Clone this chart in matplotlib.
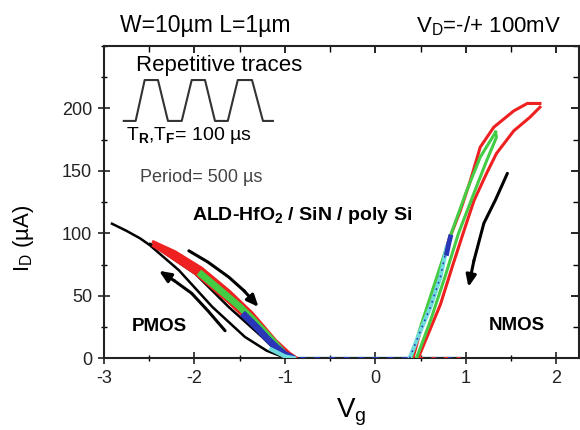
import matplotlib

matplotlib.use("Agg")
import matplotlib.pyplot as plt
from matplotlib.ticker import MultipleLocator

plt.rcParams["font.family"] = ["Liberation Sans", "DejaVu Sans"]
plt.rcParams["mathtext.fontset"] = "custom"
plt.rcParams["mathtext.rm"] = "Liberation Sans"
plt.rcParams["mathtext.it"] = "Liberation Sans:italic"
plt.rcParams["mathtext.bf"] = "Liberation Sans:bold"
plt.rcParams["axes.unicode_minus"] = False

RED = "#ee2020"
GREEN = "#44cc44"
BLUE = "#2a35b8"
CYAN = "#6fdcdc"

# ---- PMOS branch (negative Vg) ----
pmos_black_outer_vg = [-2.91, -2.75, -2.60, -2.49, -2.17, -1.80, -1.44, -1.20, -1.00]
pmos_black_outer_id = [107.7, 102, 96, 90.4, 70.4, 41, 17, 6, 0.5]
pmos_black_inner_vg = [-2.49, -2.45, -1.99, -1.62, -1.25, -1.10, -0.97]
pmos_black_inner_id = [91.5, 90.4, 67.7, 41, 17, 6.4, 0.5]

pmos_red_upper_vg = [-2.45, -2.21, -1.92, -1.62, -1.36, -1.10, -0.95, -0.88]
pmos_red_upper_id = [93, 85, 72, 54, 36, 14, 4, 0.5]
pmos_red_lower_vg = [-2.45, -2.36, -1.99, -1.62, -1.33, -1.10, -0.97]
pmos_red_lower_id = [90, 86, 68, 45, 25, 9, 0.5]

pmos_green_vg = [-1.92, -1.69, -1.51, -1.36, -1.20, -1.05]
pmos_green_id = [67, 53, 42, 31.5, 19, 7]
pmos_blue_vg = [-1.44, -1.30, -1.20, -1.10, -1.00, -0.93]
pmos_blue_id = [34, 24, 16, 9, 3, 0.5]
pmos_cyan_vg = [-1.15, -1.00, -0.90]
pmos_cyan_id = [7, 1.5, 0]

# ---- off region ----
off_vg = [-1.0, 0.95]
off_id = [0, 0]

# ---- NMOS branch (positive Vg) ----
nmos_red_up_vg = [0.42, 0.53, 0.68, 0.81, 0.94, 1.05, 1.16, 1.31, 1.53, 1.68, 1.82]
nmos_red_up_id = [1, 30, 62, 94, 118, 142, 169, 185, 198, 204, 204]
nmos_red_dn_vg = [1.82, 1.71, 1.53, 1.34, 1.23, 1.09, 0.98, 0.85, 0.72, 0.48]
nmos_red_dn_id = [201, 193, 182, 164, 148, 126, 102, 73, 43, 1]

nmos_green_up_vg = [0.40, 0.50, 0.68, 0.85, 1.01, 1.16, 1.33]
nmos_green_up_id = [1, 25, 65, 102, 134, 161, 181]
nmos_green_dn_vg = [1.33, 1.34, 1.23, 1.09, 0.92, 0.77, 0.61, 0.46]
nmos_green_dn_id = [181, 177, 158, 132, 100, 65, 30, 1]

nmos_cyan_vg = [0.38, 0.50, 0.61, 0.72, 0.79]
nmos_cyan_id = [0, 22, 41, 65, 89]
nmos_blue_vg = [0.79, 0.81, 0.83]
nmos_blue_id = [84, 91, 97]

# ---- sweep direction arrows ----
arrow_pmos_down_vg = [-2.06, -1.85, -1.62, -1.45, -1.29]
arrow_pmos_down_id = [86, 77, 65, 54, 41]
arrow_pmos_up_vg = [-1.66, -1.85, -2.03, -2.22, -2.39]
arrow_pmos_up_id = [22, 38, 52, 62, 70]
arrow_nmos_vg = [1.46, 1.33, 1.20, 1.09, 1.03]
arrow_nmos_id = [148, 127, 108, 78, 57]

# ---- gate pulse sketch (axes fraction) ----
pulse_x = [0.042, 0.067, 0.086, 0.114, 0.135, 0.164, 0.185, 0.213,
           0.234, 0.261, 0.282, 0.312, 0.335, 0.356]
pulse_y = [0.760, 0.760, 0.891, 0.891, 0.760, 0.760, 0.891, 0.891,
           0.760, 0.760, 0.891, 0.891, 0.760, 0.760]

x_ticks = [-3, -2, -1, 0, 1, 2]
y_ticks = [0, 50, 100, 150, 200]

fig = plt.figure(figsize=(5.8, 4.3), dpi=100)
ax = fig.add_axes([0.179, 0.167, 0.819, 0.726])

# off-state floor
ax.plot(off_vg, off_id, color=CYAN, lw=2.5, solid_capstyle="butt", zorder=2)
ax.plot(off_vg, off_id, color=BLUE, lw=1.5, ls=(0, (3, 4)), zorder=3)
ax.plot([0.48, 0.95], [0, 0], color=RED, lw=1.5, ls=(0, (2, 4)), zorder=3)

# PMOS
ax.plot(pmos_black_outer_vg, pmos_black_outer_id, color="k", lw=1.8, zorder=2)
ax.plot(pmos_black_inner_vg, pmos_black_inner_id, color="k", lw=1.8, zorder=2)
band_vg = pmos_red_upper_vg + pmos_red_lower_vg[::-1]
band_id = pmos_red_upper_id + pmos_red_lower_id[::-1]
ax.fill(band_vg, band_id, color=RED, lw=0, zorder=3)
ax.plot(pmos_red_upper_vg, pmos_red_upper_id, color=RED, lw=2.4, zorder=3)
ax.plot(pmos_red_lower_vg, pmos_red_lower_id, color=RED, lw=2.4, zorder=3)
ax.plot(pmos_green_vg, pmos_green_id, color=GREEN, lw=5, zorder=4)
ax.plot(pmos_blue_vg, pmos_blue_id, color=BLUE, lw=5, zorder=5)
ax.plot(pmos_cyan_vg, pmos_cyan_id, color=CYAN, lw=3, zorder=5)

# NMOS
ax.plot(nmos_red_up_vg, nmos_red_up_id, color=RED, lw=2.2, zorder=3)
ax.plot(nmos_red_dn_vg, nmos_red_dn_id, color=RED, lw=2.2, zorder=3)
ax.plot(nmos_green_up_vg, nmos_green_up_id, color=GREEN, lw=2.2, zorder=4)
ax.plot(nmos_green_dn_vg, nmos_green_dn_id, color=GREEN, lw=2.2, zorder=4)
ax.plot(nmos_cyan_vg, nmos_cyan_id, color=CYAN, lw=3, zorder=5)
ax.plot(nmos_cyan_vg, nmos_cyan_id, color=BLUE, lw=1.2, ls=(0, (1, 3)), zorder=6)
ax.plot(nmos_blue_vg, nmos_blue_id, color=BLUE, lw=3.5, zorder=6)

# arrows
for xs, ys in [(arrow_pmos_down_vg, arrow_pmos_down_id),
               (arrow_pmos_up_vg, arrow_pmos_up_id),
               (arrow_nmos_vg, arrow_nmos_id)]:
    ax.plot(xs[:-1], ys[:-1], color="k", lw=2.2, solid_capstyle="round", zorder=6)
    ax.annotate("", xy=(xs[-1], ys[-1]), xytext=(xs[-2], ys[-2]),
                arrowprops=dict(arrowstyle="-|>,head_width=0.3,head_length=0.7",
                                color="k", lw=2.2, shrinkA=0, shrinkB=0), zorder=6)

ax.plot(pulse_x, pulse_y, color="#333333", lw=1.5, transform=ax.transAxes)

ax.text(-1.73, 234, "Repetitive traces", fontsize=16, ha="center", va="center")
ax.text(-2.76, 178, r"T$_{\mathbf{R}}$,T$_{\mathbf{F}}$= 100 µs", fontsize=14,
        ha="left", va="center")
ax.text(-2.60, 145, "Period= 500 µs", fontsize=13, color="#444444", ha="left", va="center")
ax.text(-2.02, 114, r"ALD-HfO$_\mathbf{2}$ / SiN / poly Si", fontsize=14, fontweight="bold",
        ha="left", va="center")
ax.text(-2.39, 25, "PMOS", fontsize=13.5, fontweight="bold", ha="center", va="center")
ax.text(1.56, 26, "NMOS", fontsize=13.5, fontweight="bold", ha="center", va="center")

fig.text(0.207, 0.940, "W=10µm L=1µm", fontsize=16.5, ha="left", va="center")
fig.text(0.717, 0.940, r"V$_{\mathrm{D}}$=-/+ 100mV", fontsize=16, ha="left", va="center")
fig.text(0.605, 0.042, r"V$_\mathrm{g}$", fontsize=20, ha="center", va="center")
fig.text(0.040, 0.447, r"I$_\mathrm{D}$ (µA)", fontsize=16, rotation=90, ha="center", va="center")

ax.set_xlim(-3, 2.25)
ax.set_ylim(0, 250)
ax.set_xticks(x_ticks)
ax.set_yticks(y_ticks)
ax.xaxis.set_minor_locator(MultipleLocator(0.5))
ax.yaxis.set_minor_locator(MultipleLocator(25))
ax.tick_params(which="major", direction="inout", length=9, width=1.2, labelsize=13, pad=4,
               colors="#222222")
ax.tick_params(which="minor", direction="inout", length=5, width=1.0)

top = ax.secondary_xaxis("top")
top.set_xticks(x_ticks)
top.xaxis.set_minor_locator(MultipleLocator(0.5))
top.tick_params(which="major", direction="in", length=5, width=1.2, labeltop=False)
top.tick_params(which="minor", direction="in", length=4, width=1.0)
right = ax.secondary_yaxis("right")
right.set_yticks(y_ticks)
right.yaxis.set_minor_locator(MultipleLocator(25))
right.tick_params(which="major", direction="in", length=6, width=1.2, labelright=False)
right.tick_params(which="minor", direction="in", length=4, width=1.0)

for spine in ax.spines.values():
    spine.set_linewidth(1.5)
    spine.set_color("#222222")
top.spines["top"].set_visible(False)
right.spines["right"].set_visible(False)

fig.savefig("out.png", dpi=100)
